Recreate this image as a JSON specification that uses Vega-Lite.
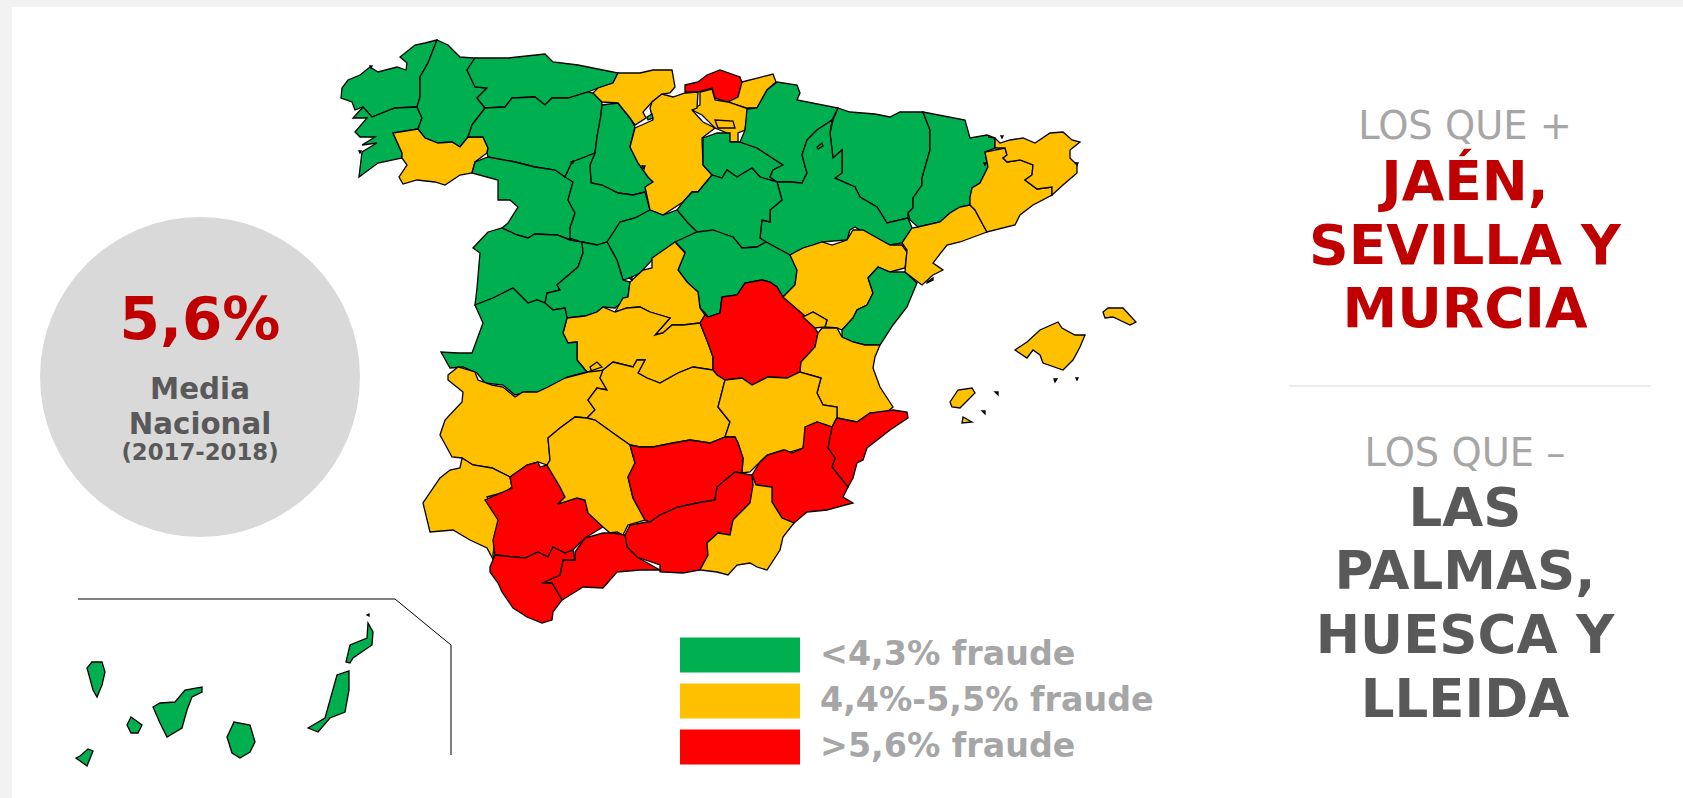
{"$schema":"https://vega.github.io/schema/vega-lite/v6.json","width":1683,"height":798,"padding":0,"autosize":{"type":"none"},"background":"#f2f2f2","config":{"view":{"stroke":null}},
"projection":{"type":"identity","scale":10,"translate":[0,0]},
"layer":[
{"data":{"values":[{"type":"Feature","properties":{"nombre":"panel"},"geometry":{"type":"Polygon","coordinates":[[[1.2,0.7],[168.3,0.7],[168.3,79.8],[1.2,79.8],[1.2,0.7]]]}}]},"mark":{"type":"geoshape","fill":"#ffffff","stroke":null},"encoding":{}},
{"data":{"values":[{"type":"Feature","properties":{"nombre":"marco Canarias"},"geometry":{"type":"LineString","coordinates":[[7.8,59.9],[39.5,59.9],[45.1,64.5],[45.1,75.5]]}}]},"mark":{"type":"geoshape","filled":false,"stroke":"#000000","strokeWidth":1},"encoding":{}},
{"data":{"values":[{"type":"Feature","properties":{"nombre":"separador"},"geometry":{"type":"LineString","coordinates":[[128.9,38.6],[165.1,38.6]]}}]},"mark":{"type":"geoshape","filled":false,"stroke":"#d9d9d9","strokeWidth":1},"encoding":{}},
{"data":{"values":[
{"type":"Feature","properties":{"p":"A Coruña","f":"<4,3% fraude"},"geometry":{"type":"Polygon","coordinates":[[[43.7,4.0],[42.5,4.3],[41.5,4.5],[40.0,5.7],[40.7,6.3],[40.6,7.0],[39.7,6.7],[37.8,7.2],[37.0,6.7],[36.0,7.5],[34.8,8.0],[34.2,8.8],[34.1,9.8],[35.2,10.2],[35.5,11.0],[36.3,10.7],[37.2,11.7],[39.5,10.8],[41.7,10.7],[42.0,9.7],[42.0,7.7],[42.8,6.3],[43.7,4.0]]]}},
{"type":"Feature","properties":{"p":"Pontevedra","f":"<4,3% fraude"},"geometry":{"type":"Polygon","coordinates":[[[36.3,10.7],[35.3,11.8],[36.7,11.8],[35.5,13.2],[36.0,13.7],[37.5,13.7],[36.2,14.5],[37.7,14.3],[36.2,15.2],[35.9,17.7],[37.8,16.3],[40.2,15.8],[40.2,15.3],[39.3,13.3],[41.8,12.9],[42.2,11.8],[41.7,10.7],[39.5,10.8],[37.2,11.7],[36.3,10.7]]]}},
{"type":"Feature","properties":{"p":"Lugo","f":"<4,3% fraude"},"geometry":{"type":"Polygon","coordinates":[[[43.7,4.0],[44.8,4.5],[46.0,5.7],[47.5,5.8],[46.7,7.0],[47.5,8.7],[48.7,8.8],[47.7,9.8],[48.5,10.8],[47.2,12.5],[46.8,13.7],[46.0,14.7],[45.2,14.2],[43.8,14.3],[42.5,13.8],[41.8,12.9],[42.2,11.8],[41.7,10.7],[42.0,9.7],[42.0,7.7],[42.8,6.3],[43.7,4.0]]]}},
{"type":"Feature","properties":{"p":"Ourense","f":"4,4%-5,5% fraude"},"geometry":{"type":"Polygon","coordinates":[[[39.3,13.3],[41.8,12.9],[42.5,13.8],[43.8,14.3],[45.2,14.2],[46.0,14.7],[46.8,13.7],[48.3,13.7],[48.8,14.8],[48.7,15.3],[47.5,16.2],[47.2,17.3],[46.0,17.5],[44.5,18.5],[43.5,18.2],[41.7,18.0],[40.3,18.4],[39.9,17.7],[40.7,16.5],[40.2,15.8],[40.2,15.3],[39.3,13.3]]]}},
{"type":"Feature","properties":{"p":"Asturias","f":"<4,3% fraude"},"geometry":{"type":"Polygon","coordinates":[[[47.5,5.8],[50.8,5.8],[54.5,5.4],[55.3,6.2],[57.8,6.5],[61.8,7.3],[61.3,8.3],[59.8,8.8],[58.8,9.2],[56.8,9.8],[55.2,9.8],[54.5,10.5],[53.5,9.7],[51.2,9.8],[50.5,10.7],[48.5,10.8],[47.7,9.8],[48.7,8.8],[47.5,8.7],[46.7,7.0],[47.5,5.8]]]}},
{"type":"Feature","properties":{"p":"León","f":"<4,3% fraude"},"geometry":{"type":"Polygon","coordinates":[[[48.5,10.8],[50.5,10.7],[51.2,9.8],[53.5,9.7],[54.5,10.5],[55.2,9.8],[56.8,9.8],[58.8,9.2],[59.3,9.3],[60.2,10.2],[60.1,11.5],[59.7,13.7],[59.5,15.3],[58.5,15.7],[57.2,16.2],[56.5,17.7],[55.5,17.0],[53.5,16.7],[51.5,16.2],[48.8,15.7],[48.7,15.3],[48.8,14.8],[48.3,13.7],[46.8,13.7],[47.2,12.5],[48.5,10.8]]]}},
{"type":"Feature","properties":{"p":"Palencia","f":"<4,3% fraude"},"geometry":{"type":"Polygon","coordinates":[[[60.2,10.5],[61.8,10.3],[63.0,11.8],[63.5,12.7],[63.0,14.7],[63.8,16.3],[64.8,17.7],[65.3,18.2],[64.5,19.2],[63.3,19.5],[61.8,19.3],[60.2,18.5],[59.1,18.3],[59.0,16.5],[59.5,15.3],[59.7,13.7],[60.1,11.5],[60.2,10.5]]]}},
{"type":"Feature","properties":{"p":"Zamora","f":"<4,3% fraude"},"geometry":{"type":"Polygon","coordinates":[[[48.8,15.7],[51.5,16.2],[53.5,16.7],[55.5,17.0],[56.5,17.7],[56.8,17.6],[57.3,18.2],[56.8,20.0],[57.5,21.3],[57.0,22.8],[57.2,24.0],[55.7,23.5],[53.5,23.4],[52.8,23.8],[51.7,23.5],[50.2,22.8],[50.8,22.3],[51.8,20.7],[51.0,20.0],[49.8,20.0],[49.8,18.0],[47.2,17.3],[47.5,16.2],[48.8,15.7]]]}},
{"type":"Feature","properties":{"p":"Valladolid","f":"<4,3% fraude"},"geometry":{"type":"Polygon","coordinates":[[[56.5,17.7],[57.2,16.2],[58.5,15.7],[59.5,15.3],[59.0,16.5],[59.1,18.3],[60.2,18.5],[61.8,19.3],[63.3,19.5],[64.5,19.2],[65.0,21.0],[63.5,21.8],[62.0,22.2],[61.5,23.0],[60.7,24.2],[59.7,24.5],[58.2,24.2],[57.0,23.8],[57.0,22.8],[57.5,21.3],[56.8,20.0],[57.3,18.2],[56.5,17.7]]]}},
{"type":"Feature","properties":{"p":"Cantabria","f":"4,4%-5,5% fraude"},"geometry":{"type":"Polygon","coordinates":[[[61.8,7.3],[64.0,7.3],[65.3,7.0],[67.2,7.0],[67.5,8.7],[67.0,9.3],[66.2,9.4],[65.2,10.2],[64.3,11.2],[64.6,11.8],[63.5,12.5],[63.0,11.8],[61.8,10.3],[60.2,10.2],[59.3,9.3],[59.8,8.8],[61.3,8.3],[61.8,7.3]]]}},
{"type":"Feature","properties":{"p":"Bizkaia","f":">5,6% fraude"},"geometry":{"type":"Polygon","coordinates":[[[68.5,8.5],[69.8,8.2],[70.7,7.5],[72.0,7.0],[74.0,7.7],[74.2,8.3],[73.8,9.7],[72.8,10.2],[71.5,9.8],[71.2,8.8],[69.8,9.2],[68.5,9.2],[68.5,8.5]]]}},
{"type":"Feature","properties":{"p":"Gipuzkoa","f":"4,4%-5,5% fraude"},"geometry":{"type":"Polygon","coordinates":[[[74.2,8.2],[77.3,7.4],[77.6,8.2],[76.7,9.0],[75.7,10.8],[74.7,10.8],[72.8,10.2],[73.8,9.7],[74.2,8.2]]]}},
{"type":"Feature","properties":{"p":"Álava","f":"4,4%-5,5% fraude"},"geometry":{"type":"Polygon","coordinates":[[[70.0,9.2],[71.2,8.9],[71.5,10.0],[72.8,10.2],[74.8,10.9],[74.5,13.0],[73.8,13.3],[73.8,14.2],[72.8,14.2],[72.7,13.3],[71.5,12.8],[70.2,11.5],[69.2,11.0],[70.0,10.5],[70.0,9.2]]]}},
{"type":"Feature","properties":{"p":"Burgos","f":"4,4%-5,5% fraude"},"geometry":{"type":"Polygon","coordinates":[[[63.5,12.8],[65.3,12.0],[65.0,10.8],[65.2,10.2],[66.2,9.4],[67.3,9.7],[68.5,9.3],[69.8,9.2],[69.7,10.8],[69.2,11.0],[70.3,12.2],[71.5,12.8],[70.2,13.8],[70.3,16.5],[71.2,17.5],[69.8,19.2],[69.2,19.2],[68.3,20.2],[66.3,21.5],[65.0,21.0],[64.5,18.7],[65.3,18.2],[64.8,17.7],[63.8,16.3],[63.0,14.7],[63.5,12.8]]]}},
{"type":"Feature","properties":{"p":"Treviño","f":"4,4%-5,5% fraude"},"geometry":{"type":"Polygon","coordinates":[[[71.5,12.0],[73.3,12.1],[73.5,12.8],[71.8,12.8],[71.5,12.0]]]}},
{"type":"Feature","properties":{"p":"La Rioja","f":"<4,3% fraude"},"geometry":{"type":"Polygon","coordinates":[[[70.3,13.8],[71.7,13.3],[73.0,13.3],[73.0,14.2],[74.0,14.2],[75.7,14.8],[78.3,16.5],[77.3,17.0],[77.0,17.7],[77.7,18.2],[76.0,17.7],[75.2,16.8],[73.7,17.7],[72.7,17.0],[72.2,17.8],[71.2,17.5],[70.3,16.5],[70.3,13.8]]]}},
{"type":"Feature","properties":{"p":"Navarra","f":"<4,3% fraude"},"geometry":{"type":"Polygon","coordinates":[[[74.7,10.9],[75.7,10.8],[76.7,9.0],[77.7,8.2],[79.7,8.5],[80.0,9.3],[79.7,10.0],[83.8,10.8],[83.2,12.0],[81.7,13.0],[80.7,14.0],[80.2,15.5],[80.7,17.3],[80.2,18.3],[79.0,18.2],[77.7,18.2],[77.0,17.7],[77.3,17.0],[78.3,16.5],[75.7,14.8],[74.0,14.2],[74.5,13.0],[74.7,10.9]]]}},
{"type":"Feature","properties":{"p":"Huesca","f":"<4,3% fraude"},"geometry":{"type":"Polygon","coordinates":[[[83.8,10.8],[85.0,11.2],[87.5,11.4],[89.0,11.7],[90.0,11.2],[92.3,11.2],[93.0,13.0],[93.0,15.0],[92.2,17.8],[92.2,18.5],[91.3,19.8],[91.3,20.8],[90.8,21.3],[90.8,21.8],[88.7,22.3],[87.7,20.7],[86.0,19.7],[85.5,18.7],[83.5,17.8],[84.2,17.3],[84.2,15.0],[83.3,15.8],[83.0,13.3],[83.3,12.0],[83.8,10.8]]]}},
{"type":"Feature","properties":{"p":"Lleida","f":"<4,3% fraude"},"geometry":{"type":"Polygon","coordinates":[[[92.3,11.2],[96.5,12.0],[97.0,13.8],[98.7,13.5],[99.5,13.8],[99.5,14.8],[98.5,15.2],[98.8,16.7],[98.0,18.3],[97.2,18.8],[97.0,20.5],[96.0,20.7],[95.0,21.3],[94.0,22.2],[91.8,22.7],[91.0,22.0],[90.8,21.3],[91.3,20.8],[91.3,19.8],[92.2,18.5],[92.2,17.8],[93.0,15.0],[93.0,13.0],[92.3,11.2]]]}},
{"type":"Feature","properties":{"p":"Zaragoza","f":"<4,3% fraude"},"geometry":{"type":"Polygon","coordinates":[[[77.7,18.2],[79.0,18.2],[80.2,18.3],[80.7,17.3],[80.2,15.5],[80.7,14.0],[81.7,13.0],[83.2,12.0],[83.0,13.3],[83.3,15.8],[84.2,15.0],[84.2,17.3],[83.5,17.8],[85.5,18.7],[86.0,19.7],[87.7,20.7],[88.7,22.3],[90.8,21.8],[91.2,22.8],[90.2,24.3],[89.0,24.5],[86.7,23.5],[85.5,22.7],[85.0,23.0],[84.7,24.0],[82.2,24.2],[81.3,24.5],[80.3,24.8],[79.0,25.5],[76.6,24.2],[76.0,23.8],[76.2,22.0],[77.0,22.2],[77.0,21.0],[78.2,20.0],[77.7,18.2]]]}},
{"type":"Feature","properties":{"p":"Soria","f":"<4,3% fraude"},"geometry":{"type":"Polygon","coordinates":[[[67.7,21.0],[68.3,20.2],[69.2,19.2],[69.8,19.2],[71.2,17.5],[72.2,17.8],[72.7,17.0],[73.7,17.7],[75.2,16.8],[76.0,17.7],[77.7,18.2],[78.2,20.0],[77.0,21.0],[77.0,22.2],[76.2,22.0],[76.0,23.8],[76.6,24.2],[75.7,24.7],[74.2,24.8],[73.3,23.7],[71.5,23.2],[69.7,23.2],[68.7,22.2],[67.7,21.0]]]}},
{"type":"Feature","properties":{"p":"Segovia","f":"<4,3% fraude"},"geometry":{"type":"Polygon","coordinates":[[[60.7,24.2],[61.5,23.0],[62.0,22.2],[63.5,21.8],[65.0,21.0],[66.3,21.5],[67.7,21.0],[68.7,22.2],[69.7,23.2],[67.8,24.2],[67.5,24.2],[65.2,26.0],[64.0,27.3],[63.0,27.8],[62.3,28.0],[61.7,26.0],[60.7,24.2]]]}},
{"type":"Feature","properties":{"p":"Guadalajara","f":"<4,3% fraude"},"geometry":{"type":"Polygon","coordinates":[[[67.5,24.2],[69.7,23.2],[71.3,23.0],[72.7,23.5],[73.3,23.7],[74.2,24.8],[75.7,24.7],[76.6,24.2],[79.0,25.5],[79.7,27.0],[79.5,28.5],[78.3,29.7],[77.7,28.7],[77.0,28.2],[76.2,28.0],[74.5,28.3],[73.7,29.5],[72.2,29.7],[72.0,31.3],[70.8,31.7],[70.5,31.3],[70.0,30.8],[69.8,29.2],[68.7,28.2],[67.8,27.0],[68.5,25.2],[67.5,24.2]]]}},
{"type":"Feature","properties":{"p":"Salamanca","f":"<4,3% fraude"},"geometry":{"type":"Polygon","coordinates":[[[48.8,23.2],[50.2,22.8],[51.7,23.5],[52.8,23.8],[53.5,23.4],[55.7,23.5],[57.0,24.0],[58.2,24.2],[58.3,25.3],[57.8,26.7],[56.5,27.8],[55.7,28.5],[56.0,29.0],[54.7,29.3],[54.5,30.3],[53.7,30.0],[52.8,30.3],[51.3,28.8],[49.3,29.8],[47.5,30.5],[47.7,28.8],[48.0,25.3],[47.3,24.8],[48.8,23.2]]]}},
{"type":"Feature","properties":{"p":"Ávila","f":"<4,3% fraude"},"geometry":{"type":"Polygon","coordinates":[[[58.2,24.2],[59.7,24.5],[60.7,24.2],[61.7,26.0],[62.3,28.0],[63.0,28.2],[62.8,29.7],[61.5,30.8],[60.3,30.7],[59.7,31.2],[58.5,31.6],[56.7,31.8],[56.5,30.8],[55.3,31.0],[54.5,30.3],[54.7,29.3],[56.0,29.0],[55.7,28.5],[56.5,27.8],[57.8,26.7],[58.3,25.3],[58.2,24.2]]]}},
{"type":"Feature","properties":{"p":"Madrid","f":"4,4%-5,5% fraude"},"geometry":{"type":"Polygon","coordinates":[[[67.5,24.2],[68.5,25.3],[67.8,27.0],[68.7,28.2],[69.8,29.2],[70.0,30.8],[70.5,31.5],[70.0,32.3],[68.3,32.5],[67.2,32.5],[66.3,33.3],[65.5,33.5],[67.0,31.8],[65.0,31.2],[64.0,30.7],[62.7,30.8],[61.5,31.2],[62.3,29.8],[62.8,29.7],[63.0,28.2],[64.3,27.0],[65.2,26.8],[65.2,25.8],[67.5,24.2]]]}},
{"type":"Feature","properties":{"p":"Toledo","f":"4,4%-5,5% fraude"},"geometry":{"type":"Polygon","coordinates":[[[56.7,31.8],[58.5,31.6],[59.7,31.2],[60.3,30.7],[61.5,31.2],[62.7,30.8],[64.0,30.7],[65.0,31.2],[67.0,31.8],[65.5,33.5],[66.3,33.3],[67.2,32.5],[68.3,32.5],[70.0,32.3],[70.8,34.3],[71.3,35.7],[71.3,37.0],[69.3,36.7],[67.8,37.3],[66.0,38.3],[64.7,37.8],[63.8,37.3],[64.5,36.0],[63.7,36.0],[63.3,36.7],[61.7,36.3],[61.3,36.2],[60.3,37.0],[59.3,37.5],[59.0,36.7],[59.7,36.2],[60.2,36.7],[58.7,37.2],[57.7,36.0],[57.7,34.2],[56.8,34.3],[56.3,33.3],[56.7,31.8]]]}},
{"type":"Feature","properties":{"p":"Cuenca","f":">5,6% fraude"},"geometry":{"type":"Polygon","coordinates":[[[72.2,29.7],[73.7,29.5],[74.5,28.3],[76.2,28.0],[77.0,28.2],[77.7,28.7],[78.3,29.7],[80.5,31.6],[81.5,32.8],[81.8,33.3],[81.5,34.7],[80.1,36.2],[80.0,37.2],[78.7,37.8],[76.8,37.7],[75.2,38.5],[74.2,37.8],[72.5,38.0],[71.7,37.5],[71.3,37.0],[71.3,35.7],[70.8,34.3],[70.0,32.3],[70.5,31.5],[70.8,31.7],[72.0,31.3],[72.2,29.7]]]}},
{"type":"Feature","properties":{"p":"Teruel","f":"4,4%-5,5% fraude"},"geometry":{"type":"Polygon","coordinates":[[[79.0,25.5],[80.3,24.8],[81.3,24.5],[82.2,24.2],[83.2,24.5],[84.7,24.0],[85.3,23.0],[86.3,23.0],[89.0,24.5],[90.2,24.5],[90.7,25.2],[90.5,26.8],[89.0,27.2],[87.8,26.7],[86.8,27.8],[87.3,29.3],[86.7,30.5],[85.7,31.0],[85.3,31.8],[84.2,33.0],[83.7,32.8],[82.5,32.7],[82.7,32.0],[81.3,31.2],[80.5,31.6],[78.3,29.7],[79.5,28.5],[79.7,27.0],[79.0,25.5]]]}},
{"type":"Feature","properties":{"p":"Castellón","f":"<4,3% fraude"},"geometry":{"type":"Polygon","coordinates":[[[84.2,33.0],[85.3,31.8],[85.7,31.0],[86.7,30.5],[87.3,29.3],[86.8,27.8],[87.8,26.7],[89.0,27.2],[90.5,27.2],[91.7,28.3],[90.7,30.7],[89.3,32.5],[88.0,34.5],[86.5,34.5],[85.3,34.2],[84.2,33.7],[84.2,33.0]]]}},
{"type":"Feature","properties":{"p":"Tarragona","f":"4,4%-5,5% fraude"},"geometry":{"type":"Polygon","coordinates":[[[90.2,24.3],[91.2,22.8],[91.8,22.7],[94.0,22.2],[95.0,21.3],[96.0,20.7],[97.0,20.5],[97.5,21.0],[98.2,22.3],[98.7,23.2],[96.0,24.2],[94.7,24.5],[93.3,26.3],[94.3,27.0],[93.3,27.5],[92.2,28.5],[91.8,28.2],[90.5,27.2],[90.7,25.0],[90.2,24.3]]]}},
{"type":"Feature","properties":{"p":"Barcelona","f":"4,4%-5,5% fraude"},"geometry":{"type":"Polygon","coordinates":[[[97.2,18.8],[98.0,18.3],[98.8,16.7],[98.5,15.2],[100.5,14.8],[100.7,15.5],[100.3,15.8],[100.7,16.2],[102.0,16.0],[103.3,16.5],[103.2,17.5],[102.5,18.0],[103.7,18.9],[105.2,18.7],[105.2,19.5],[103.3,20.5],[102.0,21.5],[101.5,22.5],[98.7,23.2],[98.2,22.3],[97.5,21.0],[97.0,20.5],[97.0,19.7],[97.2,18.8]]]}},
{"type":"Feature","properties":{"p":"Girona","f":"4,4%-5,5% fraude"},"geometry":{"type":"Polygon","coordinates":[[[98.8,13.7],[99.5,13.8],[100.0,14.3],[101.0,14.0],[102.3,13.8],[103.5,14.3],[105.0,13.3],[106.3,13.2],[107.2,14.0],[108.0,14.2],[107.0,15.0],[107.0,15.8],[107.7,16.5],[107.7,17.3],[106.3,18.5],[105.2,19.5],[105.2,18.7],[103.7,18.9],[102.5,18.0],[103.2,17.5],[103.3,16.5],[102.0,16.0],[100.7,16.2],[100.3,15.8],[100.7,15.5],[100.5,14.8],[99.5,14.8],[99.5,13.8],[98.8,13.7]]]}},
{"type":"Feature","properties":{"p":"Valencia","f":"4,4%-5,5% fraude"},"geometry":{"type":"Polygon","coordinates":[[[82.2,32.8],[83.7,32.8],[84.2,33.7],[85.3,34.2],[86.5,34.5],[88.0,34.5],[87.5,35.7],[87.3,36.8],[88.0,38.7],[89.3,40.7],[88.7,41.2],[87.0,41.3],[85.7,42.2],[83.7,41.8],[83.7,40.7],[82.3,40.5],[81.7,39.3],[82.1,37.8],[80.0,37.2],[80.1,36.2],[81.5,34.7],[81.8,33.3],[82.2,32.8]]]}},
{"type":"Feature","properties":{"p":"Rincón de Ademuz","f":"4,4%-5,5% fraude"},"geometry":{"type":"Polygon","coordinates":[[[80.3,31.7],[81.3,31.2],[82.7,32.0],[82.5,32.7],[81.5,32.8],[80.3,31.7]]]}},
{"type":"Feature","properties":{"p":"Cáceres","f":"<4,3% fraude"},"geometry":{"type":"Polygon","coordinates":[[[47.5,30.5],[49.3,29.8],[51.3,28.8],[52.8,30.3],[53.7,30.0],[54.5,30.3],[55.3,31.0],[56.5,30.8],[56.7,31.8],[56.3,33.3],[56.8,34.3],[57.7,34.2],[57.7,36.0],[58.7,37.2],[56.7,37.7],[56.2,38.7],[55.0,38.7],[54.7,39.3],[52.7,39.2],[51.5,39.5],[50.3,38.5],[48.5,38.3],[47.7,37.3],[46.3,36.7],[45.0,36.8],[44.1,35.2],[45.8,35.3],[47.2,35.3],[48.3,32.3],[47.5,30.5]]]}},
{"type":"Feature","properties":{"p":"Badajoz","f":"4,4%-5,5% fraude"},"geometry":{"type":"Polygon","coordinates":[[[44.8,37.5],[45.8,36.7],[47.5,37.2],[47.8,38.0],[49.2,38.5],[50.3,38.7],[51.5,39.7],[52.3,39.2],[53.7,39.2],[54.8,38.7],[56.5,37.8],[58.8,37.2],[60.5,37.0],[60.0,37.8],[60.7,39.0],[59.7,38.8],[58.8,40.0],[59.5,41.0],[58.7,41.8],[57.5,41.7],[56.0,42.8],[54.8,43.8],[55.0,46.0],[54.7,46.5],[53.8,46.2],[52.7,46.5],[51.0,47.7],[49.2,46.8],[47.3,46.5],[46.2,45.8],[45.2,45.7],[44.0,43.5],[44.5,42.0],[46.2,40.2],[46.3,39.2],[44.8,38.0],[44.8,37.5]]]}},
{"type":"Feature","properties":{"p":"Ciudad Real","f":"4,4%-5,5% fraude"},"geometry":{"type":"Polygon","coordinates":[[[60.3,37.0],[61.3,36.2],[61.7,36.3],[63.3,36.7],[63.7,36.0],[64.5,36.0],[63.8,37.3],[64.7,37.8],[66.0,38.3],[67.8,37.3],[69.3,36.7],[71.3,37.0],[71.7,37.5],[72.5,38.0],[71.8,40.7],[73.0,42.2],[72.5,43.7],[71.0,44.3],[69.0,44.0],[67.3,44.3],[65.3,44.7],[64.0,44.7],[63.0,44.5],[62.0,43.8],[59.5,42.0],[58.7,41.8],[59.5,41.0],[58.8,40.0],[59.7,38.8],[60.7,39.0],[60.0,37.8],[60.3,37.0]]]}},
{"type":"Feature","properties":{"p":"Albacete","f":"4,4%-5,5% fraude"},"geometry":{"type":"Polygon","coordinates":[[[72.5,38.0],[74.2,37.8],[75.2,38.5],[76.8,37.7],[78.7,37.8],[80.0,37.2],[82.1,37.8],[81.7,39.3],[82.3,40.5],[83.7,40.7],[83.7,41.7],[83.2,42.7],[81.7,42.2],[80.7,42.7],[80.3,44.8],[79.0,45.2],[78.3,45.0],[76.7,45.5],[75.0,47.2],[74.2,47.3],[74.3,45.8],[73.8,44.3],[73.5,43.7],[72.5,43.7],[73.0,42.2],[71.8,40.7],[72.5,38.0]]]}},
{"type":"Feature","properties":{"p":"Alicante","f":">5,6% fraude"},"geometry":{"type":"Polygon","coordinates":[[[83.7,41.8],[85.7,42.2],[87.0,41.3],[89.3,41.0],[90.7,41.2],[90.8,41.8],[89.0,43.0],[86.7,44.8],[86.3,46.0],[85.7,46.3],[85.3,47.8],[84.8,48.7],[83.2,46.7],[83.5,45.8],[82.8,44.8],[83.2,42.7],[83.7,41.8]]]}},
{"type":"Feature","properties":{"p":"Murcia","f":">5,6% fraude"},"geometry":{"type":"Polygon","coordinates":[[[75.2,47.5],[76.0,46.2],[76.8,45.5],[78.5,45.0],[79.2,45.3],[80.3,44.8],[80.5,42.7],[81.7,42.2],[83.2,42.7],[82.8,44.8],[83.5,45.8],[83.2,46.7],[84.8,48.7],[84.3,49.7],[85.3,50.3],[82.7,51.0],[80.7,51.2],[79.4,52.3],[78.2,51.8],[77.2,50.2],[77.2,48.7],[75.6,48.5],[75.2,47.5]]]}},
{"type":"Feature","properties":{"p":"Huelva","f":"4,4%-5,5% fraude"},"geometry":{"type":"Polygon","coordinates":[[[46.2,45.8],[47.3,46.5],[49.2,46.8],[51.0,47.7],[51.2,48.7],[50.5,49.2],[48.7,49.7],[50.0,51.5],[49.5,54.0],[49.3,55.5],[49.5,56.3],[48.7,54.8],[47.0,54.0],[45.3,53.0],[43.0,53.2],[42.3,50.3],[44.0,47.8],[45.0,47.0],[46.0,46.8],[46.2,45.8]]]}},
{"type":"Feature","properties":{"p":"Sevilla","f":">5,6% fraude"},"geometry":{"type":"Polygon","coordinates":[[[51.0,47.7],[52.7,46.5],[53.8,46.2],[54.0,46.7],[54.7,46.5],[56.0,48.7],[56.5,49.7],[55.8,50.4],[57.7,49.8],[58.5,50.0],[58.8,51.3],[60.3,52.7],[58.5,53.8],[57.3,55.0],[56.5,55.3],[55.3,54.7],[54.8,55.7],[53.8,55.2],[52.5,55.8],[49.5,55.5],[49.3,54.0],[49.8,52.0],[48.5,50.0],[51.2,48.8],[51.0,47.7]]]}},
{"type":"Feature","properties":{"p":"Córdoba","f":"4,4%-5,5% fraude"},"geometry":{"type":"Polygon","coordinates":[[[54.8,43.8],[56.0,42.8],[57.5,41.7],[58.7,41.8],[59.5,42.0],[62.0,43.8],[63.0,44.5],[63.5,46.3],[62.8,47.7],[63.3,49.8],[64.5,52.0],[62.8,52.5],[62.3,53.5],[61.7,53.2],[61.0,53.3],[60.3,52.7],[58.8,51.3],[58.5,50.0],[57.7,49.8],[55.8,50.4],[56.5,49.7],[56.0,48.7],[54.7,46.5],[55.0,46.0],[54.8,43.8]]]}},
{"type":"Feature","properties":{"p":"Jaén","f":">5,6% fraude"},"geometry":{"type":"Polygon","coordinates":[[[63.0,44.5],[64.0,44.7],[65.3,44.7],[67.3,44.3],[69.0,44.0],[71.0,44.3],[72.5,43.7],[73.5,43.7],[73.8,44.3],[74.3,45.8],[74.2,47.3],[73.5,47.2],[71.7,48.7],[71.5,50.0],[69.7,50.3],[67.8,50.7],[66.0,51.5],[65.0,52.2],[64.5,52.0],[63.3,49.8],[62.8,47.7],[63.5,46.3],[63.0,44.5]]]}},
{"type":"Feature","properties":{"p":"Granada","f":">5,6% fraude"},"geometry":{"type":"Polygon","coordinates":[[[73.5,47.2],[75.2,47.5],[75.6,48.5],[75.0,50.3],[73.3,52.0],[73.0,53.5],[71.8,53.3],[70.7,54.3],[70.8,55.5],[70.0,57.0],[68.3,57.3],[66.0,57.2],[66.0,56.5],[63.7,55.7],[62.7,54.7],[62.5,53.5],[63.0,52.5],[64.7,52.2],[65.0,52.2],[66.0,51.5],[67.8,50.7],[69.7,50.3],[71.5,50.0],[71.7,48.7],[73.5,47.2]]]}},
{"type":"Feature","properties":{"p":"Almería","f":"4,4%-5,5% fraude"},"geometry":{"type":"Polygon","coordinates":[[[75.2,47.5],[75.6,48.5],[77.2,48.7],[77.2,50.2],[78.2,51.8],[79.4,52.3],[78.3,53.7],[78.0,55.0],[76.7,57.0],[75.7,56.7],[75.0,56.3],[73.7,56.5],[72.8,57.5],[71.7,57.2],[70.0,57.0],[70.8,55.5],[70.7,54.3],[71.8,53.3],[73.0,53.5],[73.3,52.0],[75.0,50.3],[75.3,48.5],[75.2,47.5]]]}},
{"type":"Feature","properties":{"p":"Málaga","f":">5,6% fraude"},"geometry":{"type":"Polygon","coordinates":[[[62.5,53.5],[62.7,54.7],[63.7,55.7],[66.0,57.0],[64.0,57.0],[61.7,57.2],[60.3,58.8],[58.3,58.7],[56.7,59.7],[56.2,60.0],[55.2,58.3],[54.2,58.3],[56.0,57.5],[56.3,56.0],[57.5,56.0],[57.5,55.2],[58.5,53.8],[60.3,53.3],[61.3,53.3],[62.5,53.5]]]}},
{"type":"Feature","properties":{"p":"Cádiz","f":">5,6% fraude"},"geometry":{"type":"Polygon","coordinates":[[[49.5,55.5],[52.5,55.8],[53.8,55.2],[54.8,55.7],[55.3,54.7],[56.5,55.3],[57.3,55.0],[57.5,56.0],[56.3,56.0],[56.0,57.5],[54.2,58.3],[55.2,58.3],[56.2,60.0],[55.3,61.2],[55.2,62.0],[54.2,62.3],[52.7,61.7],[51.3,60.8],[50.2,59.2],[49.8,58.3],[49.0,57.2],[49.0,56.7],[49.5,55.5]]]}},
{"type":"Feature","properties":{"p":"Mallorca","f":"4,4%-5,5% fraude"},"geometry":{"type":"Polygon","coordinates":[[[101.5,35.0],[102.7,34.2],[104.0,33.0],[105.8,32.2],[106.2,32.8],[107.5,33.5],[108.5,33.5],[108.0,34.7],[107.3,36.0],[106.3,37.0],[104.3,36.3],[104.0,35.5],[103.3,35.0],[102.7,35.8],[101.5,35.0]]]}},
{"type":"Feature","properties":{"p":"Menorca","f":"4,4%-5,5% fraude"},"geometry":{"type":"Polygon","coordinates":[[[110.3,31.2],[110.8,30.8],[112.3,30.8],[113.6,32.2],[113.0,32.5],[111.3,31.7],[110.5,31.8],[110.3,31.2]]]}},
{"type":"Feature","properties":{"p":"Ibiza","f":"4,4%-5,5% fraude"},"geometry":{"type":"Polygon","coordinates":[[[95.0,40.2],[95.8,39.0],[97.2,38.8],[97.5,39.3],[96.0,40.8],[95.2,40.7],[95.0,40.2]]]}},
{"type":"Feature","properties":{"p":"Formentera","f":"4,4%-5,5% fraude"},"geometry":{"type":"Polygon","coordinates":[[[96.2,42.3],[96.3,41.7],[97.2,42.2],[96.2,42.3]]]}},
{"type":"Feature","properties":{"p":"islote","f":"4,4%-5,5% fraude"},"geometry":{"type":"Polygon","coordinates":[[[99.5,39.2],[99.8,39.2],[99.8,39.5],[99.5,39.2]]]}},
{"type":"Feature","properties":{"p":"islote","f":"4,4%-5,5% fraude"},"geometry":{"type":"Polygon","coordinates":[[[98.2,41.1],[98.5,41.1],[98.5,41.4],[98.2,41.1]]]}},
{"type":"Feature","properties":{"p":"Cabrera","f":"4,4%-5,5% fraude"},"geometry":{"type":"Polygon","coordinates":[[[105.4,37.9],[105.7,37.9],[105.5,38.2],[105.4,37.9]]]}},
{"type":"Feature","properties":{"p":"islote","f":"4,4%-5,5% fraude"},"geometry":{"type":"Polygon","coordinates":[[[107.6,37.8],[107.8,37.8],[107.7,38.0],[107.6,37.8]]]}},
{"type":"Feature","properties":{"p":"Columbretes","f":"<4,3% fraude"},"geometry":{"type":"Polygon","coordinates":[[[92.7,28.2],[93.3,27.8],[93.3,28.0],[92.7,28.3],[92.7,28.2]]]}},
{"type":"Feature","properties":{"p":"embalse","f":"<4,3% fraude"},"geometry":{"type":"Polygon","coordinates":[[[81.7,14.7],[82.2,14.3],[82.3,14.6],[81.8,14.9],[81.7,14.7]]]}},
{"type":"Feature","properties":{"p":"embalse","f":"<4,3% fraude"},"geometry":{"type":"Polygon","coordinates":[[[64.7,11.7],[65.2,11.4],[65.3,11.8],[64.8,12.0],[64.7,11.7]]]}},
{"type":"Feature","properties":{"p":"embalse","f":"<4,3% fraude"},"geometry":{"type":"Polygon","coordinates":[[[57.1,16.2],[57.3,16.1],[57.3,16.3],[57.1,16.2]]]}},
{"type":"Feature","properties":{"p":"embalse","f":"<4,3% fraude"},"geometry":{"type":"Polygon","coordinates":[[[62.9,27.8],[63.2,27.7],[63.2,28.0],[62.9,27.8]]]}},
{"type":"Feature","properties":{"p":"embalse","f":"<4,3% fraude"},"geometry":{"type":"Polygon","coordinates":[[[64.2,16.6],[64.5,16.6],[64.4,16.9],[64.2,16.6]]]}},
{"type":"Feature","properties":{"p":"embalse","f":"<4,3% fraude"},"geometry":{"type":"Polygon","coordinates":[[[100.1,13.6],[100.3,13.6],[100.2,13.8],[100.1,13.6]]]}},
{"type":"Feature","properties":{"p":"embalse","f":"<4,3% fraude"},"geometry":{"type":"Polygon","coordinates":[[[107.6,16.3],[107.8,16.3],[107.7,16.5],[107.6,16.3]]]}},
{"type":"Feature","properties":{"p":"embalse","f":"<4,3% fraude"},"geometry":{"type":"Polygon","coordinates":[[[98.4,16.3],[98.6,16.3],[98.5,16.5],[98.4,16.3]]]}},
{"type":"Feature","properties":{"p":"embalse","f":"<4,3% fraude"},"geometry":{"type":"Polygon","coordinates":[[[37.0,6.6],[37.2,6.6],[37.1,6.8],[37.0,6.6]]]}},
{"type":"Feature","properties":{"p":"embalse","f":"<4,3% fraude"},"geometry":{"type":"Polygon","coordinates":[[[35.9,15.1],[36.1,15.1],[36.0,15.3],[35.9,15.1]]]}},
{"type":"Feature","properties":{"p":"La Palma","f":"<4,3% fraude"},"geometry":{"type":"Polygon","coordinates":[[[8.7,66.8],[9.2,66.2],[10.2,66.2],[10.5,67.2],[10.2,68.5],[9.7,69.7],[9.3,69.0],[8.7,66.8]]]}},
{"type":"Feature","properties":{"p":"Tenerife","f":"<4,3% fraude"},"geometry":{"type":"Polygon","coordinates":[[[15.3,70.7],[16.0,70.3],[17.5,70.2],[18.5,69.0],[20.2,68.7],[20.2,69.2],[19.2,69.7],[18.7,71.0],[18.2,72.8],[16.7,73.7],[16.0,72.3],[15.3,70.7]]]}},
{"type":"Feature","properties":{"p":"La Gomera","f":"<4,3% fraude"},"geometry":{"type":"Polygon","coordinates":[[[12.7,72.5],[13.1,71.7],[14.2,72.5],[13.8,73.3],[13.1,73.3],[12.7,72.5]]]}},
{"type":"Feature","properties":{"p":"El Hierro","f":"<4,3% fraude"},"geometry":{"type":"Polygon","coordinates":[[[7.6,75.8],[8.0,75.6],[8.8,74.9],[9.3,75.1],[8.7,76.6],[7.6,75.8]]]}},
{"type":"Feature","properties":{"p":"Gran Canaria","f":"<4,3% fraude"},"geometry":{"type":"Polygon","coordinates":[[[22.7,73.7],[23.4,72.2],[25.0,72.5],[25.5,74.2],[25.0,75.2],[24.0,75.8],[23.2,75.3],[22.7,73.7]]]}},
{"type":"Feature","properties":{"p":"Lanzarote","f":"<4,3% fraude"},"geometry":{"type":"Polygon","coordinates":[[[34.6,66.2],[35.0,64.5],[36.7,63.8],[36.8,62.3],[37.3,63.2],[37.2,64.5],[35.3,65.8],[35.0,66.3],[34.6,66.2]]]}},
{"type":"Feature","properties":{"p":"Fuerteventura","f":"<4,3% fraude"},"geometry":{"type":"Polygon","coordinates":[[[30.8,72.8],[32.5,71.8],[33.7,67.5],[34.9,67.1],[34.9,69.0],[34.5,71.2],[33.0,71.8],[31.8,73.2],[30.8,72.8]]]}},
{"type":"Feature","properties":{"p":"La Graciosa","f":"<4,3% fraude"},"geometry":{"type":"Polygon","coordinates":[[[36.7,61.5],[36.9,61.4],[36.9,61.6],[36.7,61.5]]]}}
]},
"mark":{"type":"geoshape","stroke":"#000000","strokeWidth":1.3},
"encoding":{"color":{"field":"properties.f","type":"nominal","scale":{"domain":["<4,3% fraude","4,4%-5,5% fraude",">5,6% fraude"],"range":["#00b050","#ffc000","#ff0000"]},
"legend":{"title":null,"orient":"none","legendX":720,"legendY":635,"symbolType":"M-3,-0.87H3V0.87H-3Z","symbolSize":1600,"symbolStrokeWidth":0,"symbolOpacity":1,"rowPadding":8,"labelOffset":60,"labelFont":"DejaVu Sans","labelFontSize":33.3,"labelFontWeight":"bold","labelColor":"#a6a6a6","padding":0,"labelLimit":500,"values":["<4,3% fraude","4,4%-5,5% fraude",">5,6% fraude"],"encode":{"labels":{"update":{"dy":{"value":6}}}}}}}},
{"data":{"values":[{"nombre":"media","lon":20.0,"lat":37.7}]},"mark":{"type":"point","filled":true,"fill":"#d9d9d9","opacity":1,"size":102400,"stroke":null},"encoding":{"longitude":{"field":"lon","type":"quantitative"},"latitude":{"field":"lat","type":"quantitative"}}},
{"data":{"values":[{"t":"5,6%","lon":20.0,"lat":32.2}]},"mark":{"type":"text","font":"DejaVu Sans","fontWeight":"bold","fontSize":58,"color":"#c00000","align":"center","baseline":"middle"},"encoding":{"longitude":{"field":"lon","type":"quantitative"},"latitude":{"field":"lat","type":"quantitative"},"text":{"field":"t"}}},
{"data":{"values":[{"t":"Media","lon":20.0,"lat":39.0},{"t":"Nacional","lon":20.0,"lat":42.5}]},"mark":{"type":"text","font":"DejaVu Sans","fontWeight":"bold","fontSize":29.3,"color":"#595959","align":"center","baseline":"middle"},"encoding":{"longitude":{"field":"lon","type":"quantitative"},"latitude":{"field":"lat","type":"quantitative"},"text":{"field":"t"}}},
{"data":{"values":[{"t":"(2017-2018)","lon":20.0,"lat":45.3}]},"mark":{"type":"text","font":"DejaVu Sans","fontWeight":"bold","fontSize":22.8,"color":"#595959","align":"center","baseline":"middle"},"encoding":{"longitude":{"field":"lon","type":"quantitative"},"latitude":{"field":"lat","type":"quantitative"},"text":{"field":"t"}}},
{"data":{"values":[{"t":"LOS QUE +","lon":146.5,"lat":12.7},{"t":"LOS QUE –","lon":146.5,"lat":45.4}]},"mark":{"type":"text","font":"DejaVu Sans","fontSize":38.4,"color":"#a6a6a6","align":"center","baseline":"middle"},"encoding":{"longitude":{"field":"lon","type":"quantitative"},"latitude":{"field":"lat","type":"quantitative"},"text":{"field":"t"}}},
{"data":{"values":[{"t":"JAÉN,","lon":146.5,"lat":18.3},{"t":"SEVILLA Y","lon":146.5,"lat":24.7},{"t":"MURCIA","lon":146.5,"lat":31.0}]},"mark":{"type":"text","font":"DejaVu Sans","fontWeight":"bold","fontSize":55,"color":"#c00000","align":"center","baseline":"middle"},"encoding":{"longitude":{"field":"lon","type":"quantitative"},"latitude":{"field":"lat","type":"quantitative"},"text":{"field":"t"}}},
{"data":{"values":[{"t":"LAS","lon":146.5,"lat":51.0},{"t":"PALMAS,","lon":146.5,"lat":57.3},{"t":"HUESCA Y","lon":146.5,"lat":63.7},{"t":"LLEIDA","lon":146.5,"lat":70.1}]},"mark":{"type":"text","font":"DejaVu Sans","fontWeight":"bold","fontSize":53,"color":"#595959","align":"center","baseline":"middle"},"encoding":{"longitude":{"field":"lon","type":"quantitative"},"latitude":{"field":"lat","type":"quantitative"},"text":{"field":"t"}}}
]}
